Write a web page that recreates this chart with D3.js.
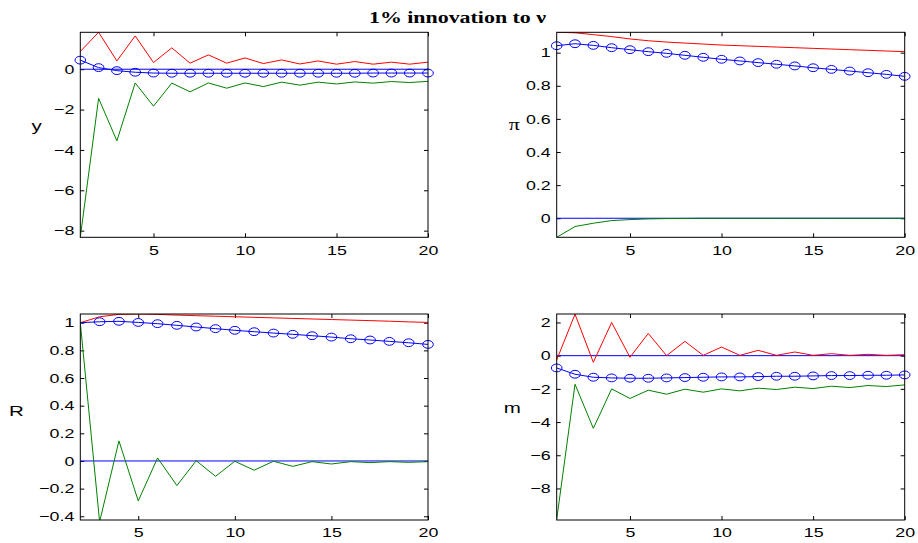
<!DOCTYPE html>
<html>
<head>
<meta charset="utf-8">
<script src="https://cdn.jsdelivr.net/npm/d3@7"></script>
<style>
  html, body { margin: 0; padding: 0; background: #fff; }
  svg { display: block; }
</style>
</head>
<body>
<svg id="chart" width="918" height="543"></svg>
<script>
// ---------------- DATA ----------------
const title = "1% innovation to \u03bd";
const periods = d3.range(1, 21);          // 1..20
const periodsR = d3.range(2, 21);         // 2..20 (R panel)
const xTicks = [5, 10, 15, 20];

// y (output)
const yUpper = [0.88, 1.83, 0.41, 1.65, 0.33, 1.06, 0.30, 0.71, 0.30, 0.56, 0.28, 0.46, 0.26, 0.41, 0.25, 0.38, 0.25, 0.35, 0.25, 0.35];
const yLower = [-8.33, -1.44, -3.55, -0.68, -1.83, -0.69, -1.12, -0.68, -0.94, -0.68, -0.86, -0.64, -0.79, -0.64, -0.73, -0.63, -0.69, -0.61, -0.66, -0.60];
const yMean  = [0.45, 0.08, -0.07, -0.15, -0.19, -0.20, -0.20, -0.20, -0.20, -0.20, -0.20, -0.20, -0.20, -0.20, -0.20, -0.20, -0.19, -0.19, -0.19, -0.19];
const yTicks = [-8, -6, -4, -2, 0];

// pi (inflation)
const piUpper = [1.123, 1.120, 1.109, 1.097, 1.083, 1.072, 1.064, 1.058, 1.052, 1.046, 1.042, 1.038, 1.034, 1.030, 1.026, 1.022, 1.018, 1.014, 1.010, 1.006];
const piLower = [-0.115, -0.050, -0.030, -0.014, -0.008, -0.004, -0.002, -0.001, 0, 0, 0, 0, 0, 0, 0, 0, 0, 0, 0, 0];
const piMean  = [1.042, 1.054, 1.044, 1.030, 1.018, 1.006, 0.996, 0.984, 0.972, 0.960, 0.950, 0.940, 0.930, 0.920, 0.909, 0.899, 0.889, 0.879, 0.869, 0.857];
const piTicks = [0, 0.2, 0.4, 0.6, 0.8, 1];

// R (interest rate), periods 2..20
const rUpper = [1.0, 1.043, 1.060, 1.063, 1.060, 1.055, 1.051, 1.047, 1.043, 1.039, 1.035, 1.031, 1.027, 1.023, 1.019, 1.015, 1.011, 1.006, 1.002];
const rLower = [1.0, -0.44, 0.145, -0.289, 0.022, -0.178, 0.002, -0.111, -0.002, -0.067, -0.002, -0.039, -0.005, -0.022, -0.005, -0.012, -0.005, -0.010, -0.005];
const rMean  = [1.0, 1.007, 1.010, 1.002, 0.993, 0.981, 0.969, 0.957, 0.945, 0.935, 0.925, 0.916, 0.906, 0.896, 0.884, 0.875, 0.865, 0.855, 0.843];
const rTicks = [-0.4, -0.2, 0, 0.2, 0.4, 0.6, 0.8, 1];

// m (money)
const mUpper = [-0.26, 2.5, -0.40, 2.0, -0.10, 1.34, 0.0, 0.86, 0.02, 0.52, 0.02, 0.32, 0.02, 0.22, 0.02, 0.12, 0.02, 0.08, 0.02, 0.06];
const mLower = [-9.86, -1.72, -4.38, -2.0, -2.58, -2.08, -2.32, -2.02, -2.20, -2.0, -2.12, -1.96, -2.04, -1.90, -1.98, -1.84, -1.92, -1.80, -1.86, -1.76];
const mMean  = [-0.74, -1.12, -1.30, -1.34, -1.36, -1.36, -1.34, -1.32, -1.30, -1.28, -1.28, -1.26, -1.24, -1.24, -1.22, -1.20, -1.20, -1.18, -1.18, -1.16];
const mTicks = [-8, -6, -4, -2, 0, 2];

// ---------------- LAYOUT / STYLE ----------------
const SX = 1.37;              // horizontal stretch of the original figure's text
const RED = "#ff0000", GREEN = "#008000", BLUE = "#0000ff";
const svg = d3.select("#chart");

function stretchText(sel, xOffset) {
  sel.each(function () {
    const t = d3.select(this);
    const x = +t.attr("x") || 0;
    t.attr("x", x / SX).attr("transform", `scale(${SX},1)`);
  });
}

const panels = [
  { label: "y", labelPos: [36.7, 131], box: [80.3, 32.3, 428, 237.3], xDomain: [1, 20], yDomain: [-8.33, 1.83],
    xs: periods, upper: yUpper, lower: yLower, mean: yMean, markerStart: 0, yTicks: yTicks },
  { label: "\u03c0", labelPos: [514.2, 130], box: [556.7, 32.3, 904.7, 237.3], xDomain: [1, 20], yDomain: [-0.115, 1.123],
    xs: periods, upper: piUpper, lower: piLower, mean: piMean, markerStart: 0, yTicks: piTicks },
  { label: "R", labelPos: [16.3, 415.7], box: [80.3, 314, 428, 520], xDomain: [2, 20], yDomain: [-0.427, 1.063],
    xs: periodsR, upper: rUpper, lower: rLower, mean: rMean, markerStart: 1, yTicks: rTicks },
  { label: "m", labelPos: [512.3, 413.3], box: [556.7, 314, 904.7, 520], xDomain: [1, 20], yDomain: [-9.9, 2.51],
    xs: periods, upper: mUpper, lower: mLower, mean: mMean, markerStart: 0, yTicks: mTicks }
];

const fmt = d => d3.format("~g")(d).replace("-", "\u2212");

panels.forEach((p, i) => {
  const [x0, y0, x1, y1] = p.box;
  const x = d3.scaleLinear().domain(p.xDomain).range([x0, x1]);
  const y = d3.scaleLinear().domain(p.yDomain).range([y1, y0]);
  const g = svg.append("g");

  const clipId = "clip" + i;
  svg.append("clipPath").attr("id", clipId)
    .append("rect").attr("x", x0).attr("y", y0).attr("width", x1 - x0).attr("height", y1 - y0);

  // axes (MATLAB-like inward ticks on all sides)
  const ax = g.append("g").attr("font-family", "'Liberation Sans', Arial, sans-serif");
  const bottom = ax.append("g").attr("transform", `translate(0,${y1})`)
    .call(d3.axisBottom(x).tickValues(xTicks).tickSizeInner(-4).tickSizeOuter(0).tickPadding(8).tickFormat(fmt));
  const top = ax.append("g").attr("transform", `translate(0,${y0})`)
    .call(d3.axisTop(x).tickValues(xTicks).tickSizeInner(-4).tickSizeOuter(0).tickFormat(""));
  const left = ax.append("g").attr("transform", `translate(${x0},0)`)
    .call(d3.axisLeft(y).tickValues(p.yTicks).tickSizeInner(-4).tickSizeOuter(0).tickPadding(6).tickFormat(fmt));
  const right = ax.append("g").attr("transform", `translate(${x1},0)`)
    .call(d3.axisRight(y).tickValues(p.yTicks).tickSizeInner(-4).tickSizeOuter(0).tickFormat(""));
  [bottom, top, left, right].forEach(a => {
    a.select(".domain").remove();
    a.selectAll(".tick line").attr("stroke", "#000").attr("stroke-width", 1);
    a.selectAll("text").attr("font-size", 13).attr("fill", "#000");
  });
  stretchText(bottom.selectAll("text"));
  stretchText(left.selectAll("text"));

  // series lines
  const line = d3.line().x((d, j) => x(p.xs[j])).y(d => y(d));
  const lines = g.append("g").attr("clip-path", `url(#${clipId})`);
  lines.append("line").attr("x1", x0).attr("x2", x1).attr("y1", y(0)).attr("y2", y(0))
    .attr("stroke", BLUE).attr("stroke-width", 1);
  lines.append("path").datum(p.upper).attr("d", line).attr("fill", "none").attr("stroke", RED).attr("stroke-width", 1);
  lines.append("path").datum(p.lower).attr("d", line).attr("fill", "none").attr("stroke", GREEN).attr("stroke-width", 1);
  lines.append("path").datum(p.mean).attr("d", line).attr("fill", "none").attr("stroke", BLUE).attr("stroke-width", 1);

  // circle markers (not clipped)
  g.append("g").selectAll("ellipse")
    .data(p.mean.map((v, j) => ({ v, j })).filter(d => d.j >= p.markerStart))
    .join("ellipse")
    .attr("cx", d => x(p.xs[d.j])).attr("cy", d => y(d.v))
    .attr("rx", 5.3).attr("ry", 3.9)
    .attr("fill", "none").attr("stroke", BLUE).attr("stroke-width", 1);

  // box
  g.append("rect").attr("x", x0).attr("y", y0).attr("width", x1 - x0).attr("height", y1 - y0)
    .attr("fill", "none").attr("stroke", "#000").attr("stroke-width", 1);

  // y label
  g.append("text")
    .attr("transform", `translate(${p.labelPos[0]},${p.labelPos[1]}) scale(${SX},1)`)
    .attr("text-anchor", "middle")
    .attr("font-family", p.label === "\u03c0" ? "'Liberation Serif', serif" : "'Liberation Sans', Arial, sans-serif")
    .attr("font-size", p.label === "\u03c0" ? 16 : 15)
    .text(p.label);
});

// title
svg.append("text")
  .attr("transform", `translate(457.5,23) scale(${SX},1)`)
  .attr("text-anchor", "middle")
  .attr("font-family", "'Liberation Serif', 'Times New Roman', serif")
  .attr("font-weight", "bold")
  .attr("font-size", 16)
  .text(title);
</script>
</body>
</html>
